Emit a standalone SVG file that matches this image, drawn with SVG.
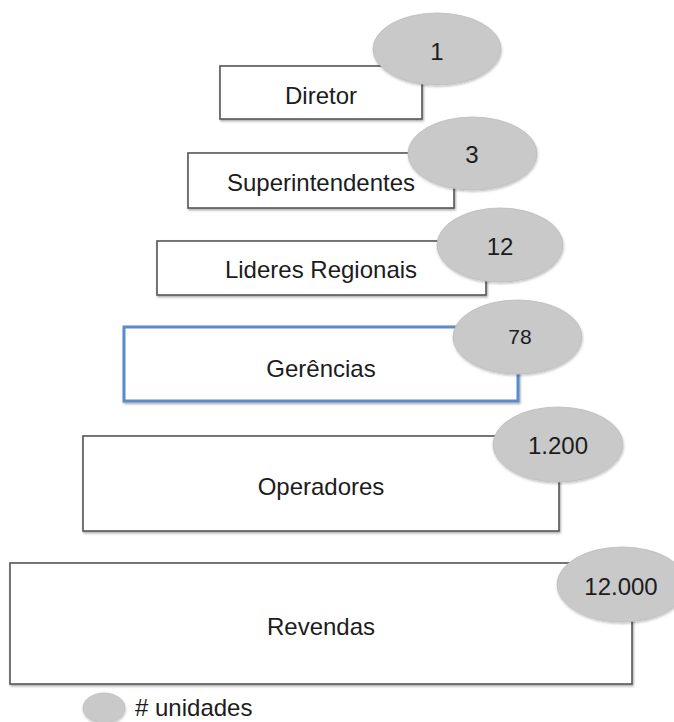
<svg xmlns="http://www.w3.org/2000/svg" width="674" height="722" viewBox="0 0 674 722">
  <defs>
    <filter id="sh" x="-10%" y="-10%" width="120%" height="130%">
      <feDropShadow dx="1" dy="1.5" stdDeviation="1" flood-color="#000" flood-opacity="0.35"/>
    </filter>
    <filter id="esh" x="-10%" y="-10%" width="120%" height="130%">
      <feDropShadow dx="0.5" dy="1.5" stdDeviation="1.2" flood-color="#000" flood-opacity="0.25"/>
    </filter>
  </defs>
  <style>
    .box { fill: #ffffff; stroke: #555555; stroke-width: 1.6; filter: url(#sh); }
    .blue { stroke: #5b8bc9; stroke-width: 3; }
    .bubble { fill: #c9c9c9; stroke: #bdbdbd; stroke-width: 0.8; filter: url(#esh); }
    text { font-family: "Liberation Sans", Arial, sans-serif; font-size: 24px; fill: #1c1c1c; }
    .c { text-anchor: middle; }
  </style>
  <rect width="674" height="722" fill="#ffffff"/>

  <g id="diretor">
    <rect class="box" x="220" y="66" width="202" height="53"/>
    <text class="c" x="321" y="104">Diretor</text>
    <ellipse class="bubble" cx="437" cy="49" rx="64" ry="36"/>
    <text class="c" x="437" y="60">1</text>
  </g>

  <g id="superintendentes">
    <rect class="box" x="188" y="153" width="266" height="55"/>
    <text class="c" x="321" y="191">Superintendentes</text>
    <ellipse class="bubble" cx="472.5" cy="153.5" rx="64.5" ry="36.5"/>
    <text class="c" x="472" y="163">3</text>
  </g>

  <g id="lideres">
    <rect class="box" x="157" y="241" width="329" height="54"/>
    <text class="c" x="321" y="278">Lideres Regionais</text>
    <ellipse class="bubble" cx="500" cy="245" rx="63" ry="37"/>
    <text class="c" x="500" y="255">12</text>
  </g>

  <g id="gerencias">
    <rect class="box blue" x="124" y="327" width="394" height="74"/>
    <text class="c" x="321" y="377">Gerências</text>
    <ellipse class="bubble" cx="517.5" cy="337" rx="64.5" ry="37"/>
    <text class="c" x="520" y="344" style="font-size:21px">78</text>
  </g>

  <g id="operadores">
    <rect class="box" x="83" y="436" width="476" height="95"/>
    <text class="c" x="321" y="495">Operadores</text>
    <ellipse class="bubble" cx="558" cy="444.5" rx="65" ry="37.5"/>
    <text class="c" x="558" y="454">1.200</text>
  </g>

  <g id="revendas">
    <rect class="box" x="10" y="563" width="622" height="121"/>
    <text class="c" x="321" y="635">Revendas</text>
    <ellipse class="bubble" cx="622" cy="584.5" rx="65" ry="37.5"/>
    <text class="c" x="621" y="595">12.000</text>
  </g>

  <g id="legenda">
    <ellipse class="bubble" cx="104" cy="708" rx="21" ry="15"/>
    <text x="135" y="716"># unidades</text>
  </g>
</svg>
